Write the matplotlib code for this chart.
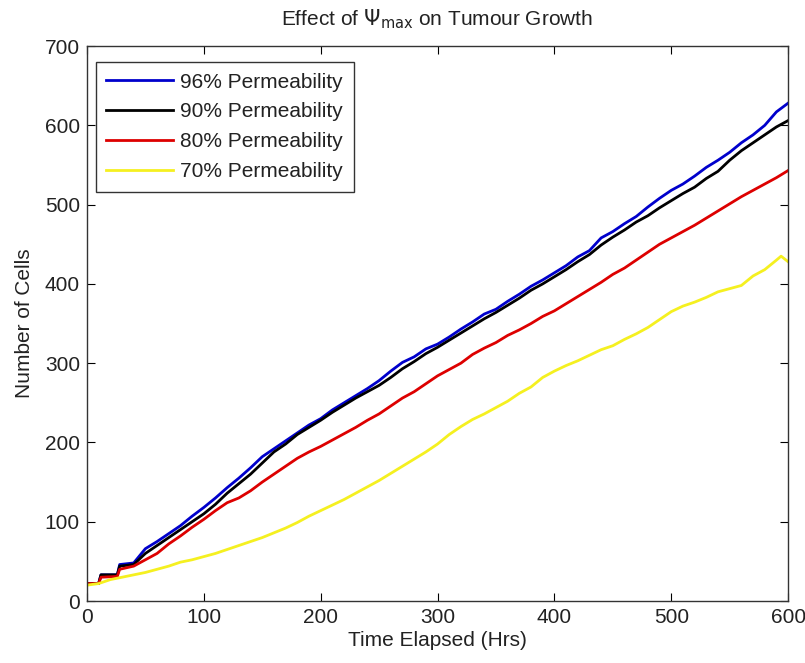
import matplotlib
matplotlib.use("Agg")
from matplotlib import pyplot as plt

plt.rcParams['font.family'] = ['Liberation Sans', 'DejaVu Sans']

# hours
t_b = [0, 10, 12, 26, 28, 40, 50, 60, 70, 80, 90, 100, 110, 120, 130, 140, 150, 160, 170, 180,
       190, 200, 210, 220, 230, 240, 250, 260, 270, 280, 290, 300, 310, 320, 330, 340, 350, 360,
       370, 380, 390, 400, 410, 420, 430, 440, 450, 460, 470, 480, 490, 500, 510, 520, 530, 540,
       550, 560, 570, 580, 590, 600]
blue = [22, 22, 33, 33, 46, 48, 66, 75, 85, 95, 107, 118, 130, 143, 155, 168, 182, 192, 202, 212,
        222, 230, 241, 250, 259, 268, 278, 290, 301, 308, 318, 324, 333, 343, 352, 362, 368, 378,
        387, 397, 405, 414, 423, 434, 442, 458, 466, 476, 485, 497, 508, 518, 526, 536, 547, 556,
        566, 578, 588, 600, 617, 628]
black = [22, 22, 33, 33, 44, 46, 60, 70, 80, 90, 100, 110, 122, 136, 148, 160, 174, 188, 198, 210,
         219, 228, 238, 247, 256, 264, 272, 282, 293, 302, 312, 320, 329, 338, 347, 356, 364, 373,
         382, 392, 400, 409, 418, 428, 437, 449, 459, 468, 478, 486, 496, 505, 514, 522, 533, 542,
         556, 568, 578, 588, 598, 606]
red = [22, 22, 30, 31, 40, 44, 52, 60, 72, 82, 93, 103, 114, 124, 130, 139, 150, 160, 170, 180,
       188, 195, 203, 211, 219, 228, 236, 246, 256, 264, 274, 284, 292, 300, 311, 319, 326, 335,
       342, 350, 359, 366, 375, 384, 393, 402, 412, 420, 430, 440, 450, 458, 466, 474, 483, 492,
       501, 510, 518, 526, 534, 543]

t_y = [0, 10, 20, 30, 40, 50, 60, 70, 80, 90, 100, 110, 120, 130, 140, 150, 160, 170, 180, 190,
       200, 210, 220, 230, 240, 250, 260, 270, 280, 290, 300, 310, 320, 330, 340, 350, 360, 370,
       380, 390, 400, 410, 420, 430, 440, 450, 460, 470, 480, 490, 500, 510, 520, 530, 540, 550,
       560, 570, 580, 590, 594, 600]
yellow = [20, 22, 27, 30, 33, 36, 40, 44, 49, 52, 56, 60, 65, 70, 75, 80, 86, 92, 99, 107,
          114, 121, 128, 136, 144, 152, 161, 170, 179, 188, 198, 210, 220, 229, 236, 244, 252, 262,
          270, 282, 290, 297, 303, 310, 317, 322, 330, 337, 345, 355, 365, 372, 377, 383, 390, 394,
          398, 410, 418, 430, 435, 428]

labels = ['96% Permeability', '90% Permeability', '80% Permeability', '70% Permeability']

fs = 15
txt = '#222222'

fig = plt.figure(figsize=(8.05, 6.63), dpi=100)
ax = fig.add_axes([0.108, 0.0935, 0.871, 0.837])

ax.plot(t_b, blue, color='#0000cc', lw=2, label=labels[0])
ax.plot(t_b, black, color='black', lw=2, label=labels[1])
ax.plot(t_b, red, color='#dd0000', lw=2, label=labels[2])
ax.plot(t_y, yellow, color='#f5f020', lw=2, label=labels[3])

ax.set_xlim(0, 600)
ax.set_ylim(0, 700)
ax.set_xticks(range(0, 601, 100))
ax.set_yticks(range(0, 701, 100))
ax.tick_params(direction='in', top=True, right=True, labelsize=fs, labelcolor=txt,
               length=6, pad=5)
for s in ax.spines.values():
    s.set_linewidth(1)
    s.set_color('#333333')

ax.set_xlabel('Time Elapsed (Hrs)', fontsize=fs, color=txt, labelpad=3)
ax.set_ylabel('Number of Cells', fontsize=fs, color=txt, labelpad=8)
ax.set_title(r'Effect of $\Psi_{\rm max}$ on Tumour Growth', fontsize=fs, color=txt, pad=15)

leg = ax.legend(loc='upper left', bbox_to_anchor=(0.013, 0.971), borderaxespad=0,
                fontsize=fs, fancybox=False, framealpha=1,
                edgecolor='#333333', handlelength=3.2, handletextpad=0.35,
                labelspacing=0.52, borderpad=0.5)
leg.get_frame().set_linewidth(1)
for tx in leg.get_texts():
    tx.set_color(txt)

fig.savefig('out.png', dpi=100)
